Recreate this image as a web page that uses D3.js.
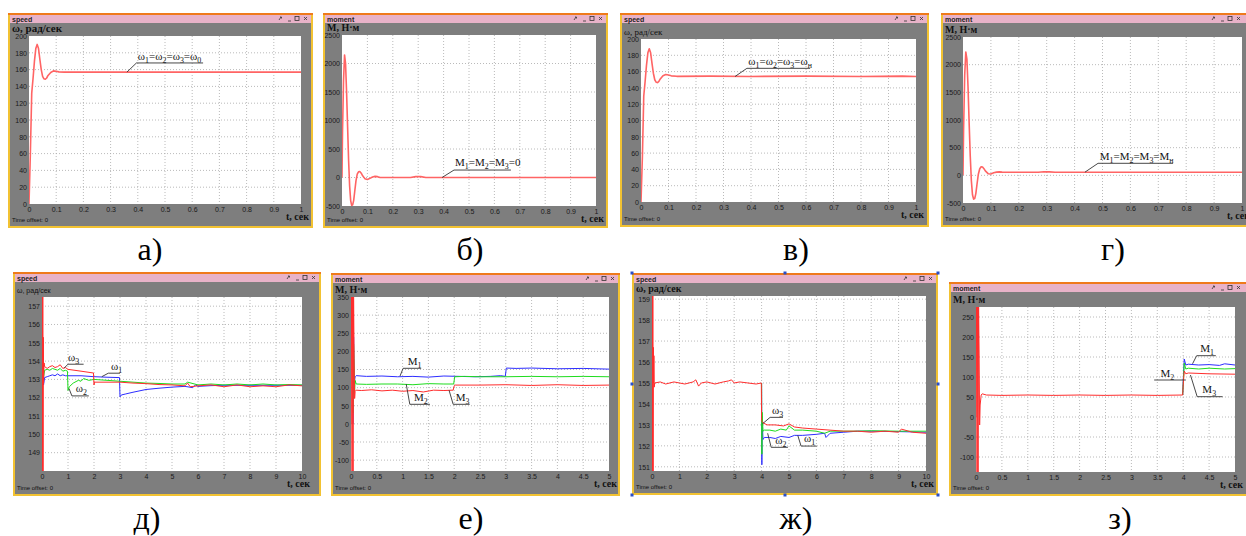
<!DOCTYPE html>
<html>
<head>
<meta charset="utf-8">
<script src="https://cdn.jsdelivr.net/npm/d3@7"></script>
<style>
  body { margin: 0; background: #fff; }
</style>
</head>
<body>
<script>
// --- а) speed, no load
const aTime  = [0, 0.005, 0.01, 0.015, 0.02, 0.025, 0.03, 0.035, 0.04, 0.045, 0.05, 0.055, 0.06, 0.065, 0.07, 0.08, 0.09, 0.1, 0.11, 0.13, 0.4, 0.7, 1];
const aSpeed = [0, 60, 132, 150, 170, 185, 190, 185, 172, 160, 152, 149, 148.5, 150, 153, 156.5, 158.5, 158, 157.3, 157, 157, 157, 157];
// --- б) moment, no load
const bTime   = [0, 0.002, 0.006, 0.01, 0.014, 0.018, 0.022, 0.026, 0.03, 0.034, 0.038, 0.042, 0.046, 0.05, 0.055, 0.06, 0.065, 0.07, 0.075, 0.08, 0.09, 0.1, 0.11, 0.12, 0.13, 0.14, 0.15, 0.27, 0.29, 0.31, 0.33, 1];
const bMoment = [0, 800, 1700, 2150, 2000, 1500, 900, 300, -150, -400, -490, -480, -400, -250, -60, 60, 100, 105, 80, 40, -20, -35, -15, 10, 20, 15, 0, 0, 15, 15, 0, 0];
// --- в) speed, rated load
const vTime  = [0, 0.005, 0.01, 0.015, 0.02, 0.025, 0.03, 0.035, 0.04, 0.045, 0.05, 0.055, 0.06, 0.065, 0.07, 0.08, 0.09, 0.1, 0.11, 0.13, 0.25, 0.4, 0.6, 0.8, 0.95, 1];
const vSpeed = [0, 55, 130, 148, 168, 183, 188, 183, 170, 158, 150, 147, 146.5, 148, 151, 155, 156.5, 155.8, 154.8, 154.2, 154.5, 154, 154.5, 154, 154.5, 154];
// --- г) moment, rated load
const gTime   = [0, 0.002, 0.006, 0.01, 0.014, 0.018, 0.022, 0.026, 0.03, 0.034, 0.038, 0.042, 0.046, 0.05, 0.055, 0.06, 0.065, 0.07, 0.075, 0.08, 0.09, 0.1, 0.11, 0.12, 0.13, 0.14, 0.15, 0.27, 0.29, 0.31, 0.33, 1];
const gMoment = [0, 800, 1800, 2230, 2100, 1600, 950, 350, -100, -350, -430, -420, -330, -170, 20, 120, 155, 150, 120, 80, 30, 25, 45, 58, 62, 58, 57, 57, 66, 62, 57, 57];

// --- д) speed, loads switched at 1, 2, 3 s
const dRedT = [0, 0.01, 0.02, 0.03, 0.04, 0.05, 0.06, 0.08, 0.1, 0.2, 0.3, 0.4, 0.5, 0.6, 0.7, 0.8, 0.9, 1.0, 1.5, 1.98, 2.0, 2.02, 2.5, 3, 3.5, 4, 4.5, 5, 5.5, 5.6, 5.7, 6, 6.5, 7, 7.5, 8, 8.5, 9, 9.5, 10];
const dRedV = [150, 158, 147.5, 158, 147.5, 155.3, 152.8, 153.9, 153.7, 153.6, 153.7, 153.75, 153.65, 153.7, 153.8, 153.6, 153.65, 153.55, 153.45, 153.35, 152.7, 152.85, 152.85, 152.85, 152.8, 152.77, 152.72, 152.7, 152.65, 152.8, 152.6, 152.65, 152.7, 152.6, 152.7, 152.6, 152.65, 152.6, 152.7, 152.65];
const dGreenT = [0.05, 0.08, 0.1, 0.2, 0.3, 0.4, 0.5, 0.6, 0.7, 0.8, 0.9, 0.98, 1.0, 1.05, 1.2, 1.4, 1.5, 1.6, 1.8, 2.0, 2.5, 3.0, 3.5, 4, 4.5, 5, 5.5, 5.6, 6, 6.5, 7, 7.5, 8, 8.5, 9, 9.5, 10];
const dGreenV = [153.0, 153.3, 153.5, 153.55, 153.5, 153.6, 153.55, 153.5, 153.6, 153.45, 153.5, 153.45, 152.4, 152.6, 152.8, 152.95, 152.9, 153.05, 152.95, 153.0, 152.95, 152.9, 152.85, 152.8, 152.78, 152.75, 152.75, 152.85, 152.7, 152.75, 152.7, 152.75, 152.7, 152.75, 152.7, 152.72, 152.7];
const dBlueT = [0.02, 0.04, 0.06, 0.1, 0.2, 0.3, 0.4, 0.5, 0.6, 0.7, 0.8, 0.9, 1.0, 1.5, 2.0, 2.5, 2.98, 3.0, 3.05, 3.2, 3.5, 4, 4.5, 5, 5.5, 5.8, 5.9, 6, 6.5, 7, 8, 9, 10];
const dBlueV = [152.5, 153.4, 152.7, 153.1, 153.15, 153.2, 153.25, 153.2, 153.3, 153.2, 153.25, 153.2, 153.2, 153.2, 153.15, 153.12, 153.1, 152.05, 152.15, 152.2, 152.3, 152.45, 152.52, 152.58, 152.62, 152.55, 152.7, 152.62, 152.66, 152.68, 152.68, 152.68, 152.68];

// --- е) moment, loads switched at 2, 3 s
const eRedT = [0, 0.01, 0.02, 0.03, 0.04, 0.05, 0.06, 0.07, 0.08, 0.1, 0.2, 0.4, 0.6, 0.8, 1.0, 1.2, 1.4, 1.6, 1.8, 1.98, 2.0, 2.02, 2.5, 3, 3.5, 4, 4.5, 5];
const eRedV = [0, 360, -140, 360, -140, 360, 180, 70, 90, 93, 92, 94, 91, 93, 90, 92, 88, 93, 92, 93, 105, 107, 107, 108, 106, 108, 106, 107];
const eGreenT = [0.04, 0.05, 0.06, 0.07, 0.08, 0.1, 0.3, 0.6, 0.9, 1.2, 1.5, 1.8, 1.99, 2.01, 2.2, 2.5, 3, 3.5, 4, 4.5, 5];
const eGreenV = [30, 220, 160, 90, 120, 110, 109, 110, 110, 108, 111, 110, 110, 130, 131, 130, 130, 131, 130, 131, 130];
const eBlueT = [0.04, 0.05, 0.06, 0.07, 0.08, 0.1, 0.3, 0.6, 0.9, 1.2, 1.5, 1.8, 2.1, 2.4, 2.7, 2.9, 2.99, 3.01, 3.2, 3.5, 4, 4.5, 5];
const eBlueV = [0, 240, 140, 120, 130, 133, 131, 132, 130, 131, 129, 132, 131, 130, 131, 133, 131, 154, 153, 154, 152, 153, 151];

// --- ж) speed, load step at 4 s
const zhRedT = [0, 0.01, 0.02, 0.03, 0.04, 0.05, 0.06, 0.07, 0.08, 0.1, 0.3, 0.5, 0.8, 1.0, 1.2, 1.5, 1.6, 1.7, 1.8, 2.0, 2.3, 2.6, 2.8, 2.9, 3.0, 3.2, 3.5, 3.8, 3.99, 4.0, 4.05, 4.2, 4.5, 4.8, 5.0, 5.2, 5.5, 6, 6.5, 7, 7.5, 8, 8.5, 9, 9.1, 9.5, 10];
const zhRedV = [151, 159.2, 150.8, 159.2, 150.8, 156.7, 155.0, 156.3, 154.8, 155.0, 155.05, 154.95, 155.05, 155.0, 154.95, 155.05, 155.15, 154.85, 155.0, 155.05, 154.95, 155.05, 155.1, 155.15, 155.0, 155.05, 155.0, 154.95, 155.0, 153.2, 153.1, 153.0, 153.0, 152.95, 153.05, 152.9, 152.85, 152.8, 152.75, 152.7, 152.7, 152.65, 152.7, 152.65, 152.8, 152.65, 152.6];
const zhGreenT = [4.0, 4.01, 4.02, 4.05, 4.1, 4.3, 4.5, 4.7, 4.9, 5.0, 5.2, 5.5, 6, 6.3, 6.5, 7, 7.5, 8, 9, 10];
const zhGreenV = [155, 151.6, 153.6, 152.7, 152.75, 152.75, 152.7, 152.8, 152.75, 152.95, 152.75, 152.75, 152.7, 152.6, 152.7, 152.7, 152.7, 152.72, 152.7, 152.7];
const zhBlueT = [4.0, 4.01, 4.02, 4.05, 4.1, 4.3, 4.5, 4.7, 5.0, 5.2, 5.5, 6, 6.3, 6.35, 6.5, 7, 7.5, 8, 9, 10];
const zhBlueV = [155, 151.1, 153.4, 152.3, 152.4, 152.4, 152.35, 152.45, 152.4, 152.5, 152.5, 152.55, 152.6, 152.4, 152.6, 152.65, 152.7, 152.7, 152.68, 152.65];

// --- з) moment, load step at 4 s
const zRedT = [0, 0.01, 0.02, 0.03, 0.04, 0.05, 0.06, 0.07, 0.08, 0.1, 0.12, 0.2, 0.5, 1, 1.5, 2, 2.5, 3, 3.5, 3.99, 4.0, 4.02, 4.05, 4.1, 4.5, 5];
const zRedV = [0, 280, -140, 280, -140, 280, 165, -20, 30, 55, 58, 55, 54, 55, 54, 55, 54, 55, 54, 55, 80, 115, 108, 110, 108, 107];
const zGreenT = [3.99, 4.0, 4.02, 4.05, 4.1, 4.3, 4.5, 4.8, 5];
const zGreenV = [55, 80, 135, 120, 122, 120, 122, 120, 121];
const zBlueT = [3.99, 4.0, 4.02, 4.05, 4.1, 4.3, 4.5, 4.7, 4.8, 5];
const zBlueV = [55, 90, 145, 130, 132, 130, 131, 129, 133, 130];

// annotation labels: text, text anchor (t, value), underline [t0, t1, value], leader end (t, value)
const aNotes  = [{text: 'ω_1=ω_2=ω_3=ω_0', at: [0.40, 172], line: [0.395, 0.64, 167.9], lead: [0.36, 157]}];
const bNotes  = [{text: 'M_1=M_2=M_3=0', at: [0.445, 193], line: [0.441, 0.665, 131], lead: [0.394, 0]}];
const vNotes  = [{text: 'ω_1=ω_2=ω_3=ω_н', at: [0.39, 168.3], line: [0.385, 0.615, 164], lead: [0.342, 154]}];
const gNotes  = [{text: 'M_1=M_2=M_3=M_н', at: [0.49, 281], line: [0.484, 0.753, 217.5], lead: [0.437, 57]}];
const dNotes  = [
  {text: 'ω_3', at: [1.0, 154.02], line: [1.0, 1.6, 153.83], lead: [0.85, 153.62]},
  {text: 'ω_1', at: [2.65, 153.53], line: [2.55, 3.0, 153.34], lead: [2.3, 153.15]},
  {text: 'ω_2', at: [1.3, 152.29], line: [1.15, 1.8, 152.1], lead: [1.04, 152.5]}
];
const eNotes  = [
  {text: 'M_1', at: [1.1, 163], line: [1.01, 1.36, 153.3], lead: [0.95, 132]},
  {text: 'M_2', at: [1.22, 63.7], line: [1.14, 1.53, 54], lead: [1.07, 110]},
  {text: 'M_3', at: [2.03, 63.7], line: [1.98, 2.3, 54], lead: [1.9, 93]}
];
const zhNotes = [
  {text: 'ω_3', at: [4.38, 153.53], line: [4.31, 4.78, 153.36], lead: [4.03, 153.05]},
  {text: 'ω_2', at: [4.5, 152.1], line: [4.35, 4.96, 151.93], lead: [4.22, 152.6]},
  {text: 'ω_1', at: [5.55, 152.16], line: [5.44, 6.01, 151.99], lead: [5.32, 152.5]}
];
const zNotes  = [
  {text: 'M_1', at: [4.33, 162], line: [4.26, 4.63, 153.25], lead: [4.18, 133]},
  {text: 'M_2', at: [3.56, 101.25], line: [3.44, 4.05, 92.5], lead: null},
  {text: 'M_3', at: [4.37, 59.5], line: [4.27, 4.76, 50.75], lead: [4.14, 105]}
];

const RED = '#ff2d2d', GREEN = '#1fdc1f', BLUE = '#2d2dff', PINK = '#ff6464';

const panels = [
  {title: 'speed', win: [8, 13, 313, 228], plot: [29, 36, 301, 204], x: [0, 1], xStep: 0.1, y: [0, 200], yStep: 20,
   yTitle: 'ω, рад/сек', yTitleSize: 11, caption: 'а)', capX: 150, capY: 260, notes: aNotes,
   series: [{t: aTime, v: aSpeed, color: PINK, w: 1.6}]},
  {title: 'moment', win: [323, 13, 608, 228], plot: [342, 35, 596, 206], x: [0, 1], xStep: 0.1, y: [-500, 2500], yStep: 500,
   yTitle: 'M, Н·м', yTitleSize: 10, caption: 'б)', capX: 470, capY: 260, notes: bNotes,
   series: [{t: bTime, v: bMoment, color: PINK, w: 1.6}]},
  {title: 'speed', win: [620, 13, 929, 227], plot: [641, 39, 916, 202], x: [0, 1], xStep: 0.1, y: [0, 200], yStep: 20,
   yTitle: 'ω, рад/сек', yTitleSize: 9, caption: 'в)', capX: 796, capY: 260, notes: vNotes,
   series: [{t: vTime, v: vSpeed, color: PINK, w: 1.6}]},
  {title: 'moment', win: [941, 13, 1254, 227], plot: [963, 37, 1242, 203], x: [0, 1], xStep: 0.1, y: [-500, 2500], yStep: 500,
   yTitle: 'M, Н·м', yTitleSize: 10, caption: 'г)', capX: 1113, capY: 260, notes: gNotes,
   series: [{t: gTime, v: gMoment, color: PINK, w: 1.6}]},
  {title: 'speed', win: [13, 272, 321, 496], plot: [42, 297, 302, 471], x: [0, 10], xStep: 1, y: [148, 157.5], yStep: 1, yTicks: [149, 157],
   yTitle: 'ω, рад/сек', yTitleSize: 7, caption: 'д)', capX: 147, capY: 529, notes: dNotes,
   series: [{t: dBlueT, v: dBlueV, color: BLUE, w: 1}, {t: dGreenT, v: dGreenV, color: GREEN, w: 1}, {t: dRedT, v: dRedV, color: RED, w: 1}]},
  {title: 'moment', win: [331, 273, 620, 496], plot: [351, 297, 609, 471], x: [0, 5], xStep: 0.5, y: [-130, 350], yStep: 50, yTicks: [-100, 350],
   yTitle: 'M, Н·м', yTitleSize: 10, caption: 'е)', capX: 471, capY: 529, notes: eNotes,
   series: [{t: eBlueT, v: eBlueV, color: BLUE, w: 1}, {t: eGreenT, v: eGreenV, color: GREEN, w: 1}, {t: eRedT, v: eRedV, color: RED, w: 1}]},
  {title: 'speed', win: [632, 273, 938, 495], plot: [652, 296, 926, 471], x: [0, 10], xStep: 1, y: [150.8, 159.15], yStep: 1, yTicks: [151, 159],
   yTitle: 'ω, рад/сек', yTitleSize: 10, caption: 'ж)', capX: 796, capY: 529, notes: zhNotes, handles: true,
   series: [{t: zhBlueT, v: zhBlueV, color: BLUE, w: 1}, {t: zhGreenT, v: zhGreenV, color: GREEN, w: 1}, {t: zhRedT, v: zhRedV, color: RED, w: 1}]},
  {title: 'moment', win: [949, 282, 1252, 496], plot: [976, 307, 1235, 472], x: [0, 5], xStep: 0.5, y: [-137.5, 275], yStep: 50, yTicks: [-100, 250],
   yTitle: 'M, Н·м', yTitleSize: 10, caption: 'з)', capX: 1120, capY: 529, notes: zNotes,
   series: [{t: zBlueT, v: zBlueV, color: BLUE, w: 1}, {t: zGreenT, v: zGreenV, color: GREEN, w: 1}, {t: zRedT, v: zRedV, color: RED, w: 1}]}
];

// pick the first serif family that is really installed
function pickFont(list, generic) {
  const ctx = document.createElement('canvas').getContext('2d');
  const probe = 'мыжзбгMWiil10ω';
  ctx.font = '40px monospace';
  const base = ctx.measureText(probe).width;
  for (const f of list) {
    ctx.font = '40px "' + f + '", monospace';
    if (Math.abs(ctx.measureText(probe).width - base) > 0.5) return '"' + f + '", ' + generic;
  }
  return generic;
}
const SERIF = pickFont(['Liberation Serif', 'DejaVu Serif', 'Times New Roman', 'Noto Serif'], 'serif');
const SANS = pickFont(['Liberation Sans', 'DejaVu Sans', 'Arial'], 'sans-serif');

const svg = d3.select('body').append('svg')
  .attr('width', 1246)
  .attr('height', 536);

const fmt = d => String(+d.toFixed(2));

function noteText(sel, str) {
  // "_x" = subscript x
  const re = /_(.)|([^_])/g;
  let m, down = false;
  while ((m = re.exec(str)) !== null) {
    if (m[1]) {
      sel.append('tspan').attr('font-size', '0.72em').attr('dy', 3).text(m[1]);
      down = true;
    } else {
      const ts = sel.append('tspan').text(m[2]);
      if (down) { ts.attr('dy', -3); down = false; }
    }
  }
}

panels.forEach(function (p, idx) {
  const [x0, y0, x1, y1] = p.win;
  const [px0, py0, px1, py1] = p.plot;
  const g = svg.append('g');

  // window frame
  g.append('rect').attr('x', x0).attr('y', y0).attr('width', x1 - x0).attr('height', y1 - y0).attr('fill', '#f2c232');
  g.append('rect').attr('x', x0).attr('y', y0).attr('width', x1 - x0).attr('height', 2).attr('fill', '#ef7a1c');
  g.append('rect').attr('x', x0 + 2).attr('y', y0 + 2).attr('width', x1 - x0 - 4).attr('height', 8).attr('fill', '#e8b2c8');
  g.append('rect').attr('x', x0 + 2).attr('y', y0 + 10).attr('width', x1 - x0 - 4).attr('height', y1 - y0 - 12).attr('fill', '#7e7e7e');
  g.append('text').attr('font-family', SANS).attr('x', x0 + 4).attr('y', y0 + 8.5)
    .attr('font-size', 7).attr('font-weight', 'bold').attr('fill', '#222').text(p.title);

  // title bar buttons
  const bx = Math.min(x1, 1246) - 4;
  const ic = g.append('g').attr('stroke', '#333').attr('fill', 'none').attr('stroke-width', 0.8);
  ic.append('path').attr('d', `M${bx - 5},${y0 + 4} l3,3 M${bx - 5},${y0 + 7} l3,-3`);
  ic.append('rect').attr('x', bx - 14).attr('y', y0 + 3.5).attr('width', 4).attr('height', 4);
  ic.append('path').attr('d', `M${bx - 21},${y0 + 8} h3`);
  ic.append('path').attr('d', `M${bx - 30},${y0 + 7} l2,-3 M${bx - 29},${y0 + 4} h1.5 v1.5`);

  // plot area
  const x = d3.scaleLinear().domain(p.x).range([px0, px1]);
  const y = d3.scaleLinear().domain(p.y).range([py1, py0]);
  g.append('rect').attr('x', px0).attr('y', py0).attr('width', px1 - px0).attr('height', py1 - py0).attr('fill', '#fff');

  const xTicks = d3.range(p.x[0], p.x[1] + p.xStep / 2, p.xStep);
  const yr = p.yTicks || p.y;
  const yTicks = d3.range(yr[0], yr[1] + p.yStep / 2, p.yStep);

  const grid = g.append('g').attr('stroke', '#a8a8a8').attr('stroke-width', 0.8).attr('stroke-dasharray', '1,2');
  grid.selectAll('.gx').data(xTicks.filter(d => d > p.x[0] && d < p.x[1])).enter().append('line')
    .attr('x1', d => x(d)).attr('x2', d => x(d)).attr('y1', py0).attr('y2', py1);
  grid.selectAll('.gy').data(yTicks.filter(d => d > p.y[0] && d < p.y[1])).enter().append('line')
    .attr('x1', px0).attr('x2', px1).attr('y1', d => y(d)).attr('y2', d => y(d));

  const xAxis = g.append('g').attr('transform', 'translate(0,' + py1 + ')')
    .call(d3.axisBottom(x).tickValues(xTicks).tickFormat(fmt).tickSize(0).tickPadding(3));
  const yAxis = g.append('g').attr('transform', 'translate(' + px0 + ',0)')
    .call(d3.axisLeft(y).tickValues(yTicks).tickFormat(fmt).tickSize(0).tickPadding(2));
  [xAxis, yAxis].forEach(a => {
    a.select('.domain').remove();
    a.attr('font-family', SANS).attr('font-size', 7);
    a.selectAll('text').attr('fill', '#1a1a1a');
  });

  // curves
  const clipId = 'clip' + idx;
  g.append('clipPath').attr('id', clipId).append('rect')
    .attr('x', px0).attr('y', py0).attr('width', px1 - px0).attr('height', py1 - py0);
  const line = d3.line().x(d => x(d[0])).y(d => y(d[1]));
  p.series.forEach(function (s) {
    g.append('path')
      .datum(d3.zip(s.t, s.v))
      .attr('clip-path', 'url(#' + clipId + ')')
      .attr('fill', 'none')
      .attr('stroke', s.color)
      .attr('stroke-width', s.w)
      .attr('stroke-linejoin', 'round')
      .attr('d', line);
  });

  // annotations
  p.notes.forEach(function (n) {
    const t = g.append('text').attr('font-family', SERIF).attr('x', x(n.at[0])).attr('y', y(n.at[1]))
      .attr('font-size', 11).attr('fill', '#111');
    noteText(t, n.text);
    g.append('line').attr('x1', x(n.line[0])).attr('x2', x(n.line[1]))
      .attr('y1', y(n.line[2])).attr('y2', y(n.line[2]))
      .attr('stroke', '#333').attr('stroke-width', 0.9);
    if (n.lead) {
      g.append('line').attr('x1', x(n.line[0])).attr('y1', y(n.line[2]))
        .attr('x2', x(n.lead[0])).attr('y2', y(n.lead[1]))
        .attr('stroke', '#333').attr('stroke-width', 0.9);
    }
  });

  // axis titles, footer
  g.append('text').attr('font-family', p.yTitleSize >= 9 ? SERIF : SANS).attr('x', x0 + 4).attr('y', py0 - 4)
    .attr('font-size', p.yTitleSize).attr('font-weight', p.yTitleSize >= 10 ? 'bold' : 'normal')
    .attr('fill', '#111').text(p.yTitle);
  g.append('text').attr('font-family', SERIF).attr('x', px1 + 8).attr('y', py1 + 16).attr('text-anchor', 'end')
    .attr('font-size', 10).attr('font-weight', 'bold').attr('fill', '#111').text('t, сек');
  g.append('text').attr('font-family', SANS).attr('x', x0 + 4).attr('y', y1 - 6)
    .attr('font-size', 6).attr('fill', '#111').text('Time offset:   0');

  if (p.handles) {
    const hx = [x0, (x0 + x1) / 2, x1], hy = [y0, (y0 + y1) / 2, y1];
    hx.forEach((hxv, i) => hy.forEach((hyv, j) => {
      if (i === 1 && j === 1) return;
      g.append('rect').attr('x', hxv - 1.5).attr('y', hyv - 1.5).attr('width', 3).attr('height', 3).attr('fill', '#2b4fc8');
    }));
  }

  // caption
  svg.append('text').attr('font-family', SERIF).attr('x', p.capX).attr('y', p.capY).attr('text-anchor', 'middle')
    .attr('font-size', 32).attr('fill', '#000').text(p.caption);
});
</script>
</body>
</html>
